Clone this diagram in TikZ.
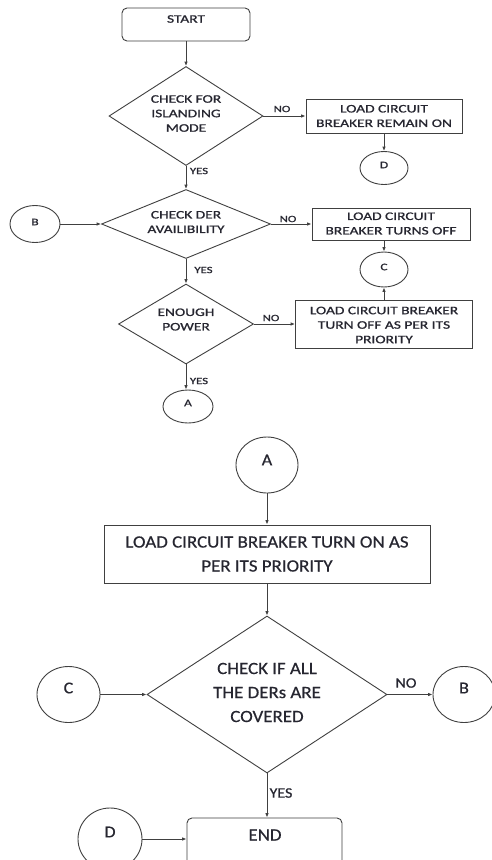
\documentclass[tikz,border=0pt]{standalone}
\usepackage{fontspec}
\setmainfont{Carlito}
\newfontfamily\topfont{Carlito}[FakeStretch=1.34,FakeBold=1]
\newfontfamily\lowfont{Carlito}[FakeStretch=1.1,FakeBold=0.5]
\usetikzlibrary{shapes.geometric,arrows.meta}
\definecolor{ln}{HTML}{404040}
\definecolor{tx}{HTML}{262630}
\begin{document}
\begin{tikzpicture}[x=1pt,y=-1pt,
  box/.style={draw=ln, line width=0.9pt, rectangle, inner sep=0pt},
  rbox/.style={box, rounded corners=5pt},
  dia/.style={draw=ln, line width=0.9pt, diamond, inner sep=0pt},
  circ/.style={draw=ln, line width=0.9pt, ellipse, inner sep=0pt},
  ttop/.style={text=tx, font=\topfont\fontsize{11.5}{14.5}\selectfont, align=center, inner sep=0pt},
  tlow/.style={text=tx, font=\lowfont\fontsize{17.2}{24}\selectfont, align=center, inner sep=0pt},
  ltop/.style={text=tx, font=\topfont\fontsize{9.5}{11}\selectfont, inner sep=0pt},
  llow/.style={text=tx, font=\lowfont\fontsize{14.5}{16}\selectfont, inner sep=0pt},
  ctop/.style={text=tx, font=\topfont\fontsize{10}{12}\selectfont, inner sep=0pt},
  clow/.style={text=tx, font=\lowfont\fontsize{16.5}{18}\selectfont, inner sep=0pt},
  arr/.style={draw=ln, line width=0.9pt, -{Latex[length=4.5pt,width=3.6pt]}},
]
\useasboundingbox (0,0) rectangle (492,860);
\clip (0,0) rectangle (492,860);
\fill[white] (0,0) rectangle (492,860);

% ---------- top part ----------
\node[rbox, minimum width=128pt, minimum height=33pt] (start) at (186,24.5) {};
\node[ttop] (startt) at (186,19) {START};

\node[dia, minimum width=154pt, minimum height=99pt] (d1) at (186,116) {};
\node[ttop] (d1t) at (186,113.5) {CHECK FOR\\ISLANDING\\MODE};

\node[box, minimum width=156pt, minimum height=34pt] (b1) at (384,116) {};
\node[ttop] (b1t) at (384,116) {LOAD CIRCUIT\\BREAKER REMAIN ON};

\node[circ, minimum width=48pt, minimum height=33pt] (cD) at (384,168) {};
\node[ctop] (cDt) at (384,165) {D};

\node[dia, minimum width=169pt, minimum height=69pt] (d2) at (186,224) {};
\node[ttop] (d2t) at (186,222) {CHECK DER\\AVAILIBILITY};

\node[circ, minimum width=50pt, minimum height=37pt] (cB) at (35,224) {};
\node[ctop] (cBt) at (35,222) {B};

\node[box, minimum width=158pt, minimum height=32pt] (b2) at (391,224) {};
\node[ttop] (b2t) at (391,223.5) {LOAD CIRCUIT\\BREAKER TURNS OFF};

\node[circ, minimum width=48pt, minimum height=35pt] (cC) at (384,269.5) {};
\node[ctop] (cCt) at (384,267) {C};

\node[dia, minimum width=135pt, minimum height=80pt] (d3) at (186,324) {};
\node[ttop] (d3t) at (186,319.5) {ENOUGH\\POWER};

\node[box, minimum width=177pt, minimum height=48pt] (b3) at (384,324) {};
\node[ttop] (b3t) at (384,325) {LOAD CIRCUIT BREAKER\\TURN OFF AS PER ITS\\PRIORITY};

\node[circ, minimum width=50pt, minimum height=33pt] (cA) at (188,406.5) {};
\node[ctop] (cAt) at (188,403) {A};

% labels top
\node[ltop] (no1) at (282,109) {NO};
\node[ltop] (yes1) at (199,171) {YES};
\node[ltop] (no2) at (288,219) {NO};
\node[ltop] (yes2) at (203.5,270) {YES};
\node[ltop] (no3) at (271,318) {NO};
\node[ltop] (yes3) at (199,381) {YES};

% connectors top
\draw[arr] (start.south) -- (d1.north);
\draw[arr] (d1.east) -- (b1.west);
\draw[arr] (b1.south) -- (cD.north);
\draw[arr] (d1.south) -- (d2.north);
\draw[arr] (cB.east) -- (d2.west);
\draw[arr] (d2.east) -- (b2.west);
\draw[arr] (b2.south -| cC.north) -- (cC.north);
\draw[arr] (b3.north) -- (cC.south);
\draw[arr] (d2.south) -- (d3.north);
\draw[arr] (d3.east) -- (b3.west);
\draw[arr] (d3.south) -- (d3.south |- cA.north);

% ---------- bottom part ----------
\node[circ, minimum width=62pt, minimum height=56pt] (bigA) at (267,465) {};
\node[clow] (bigAt) at (267,460) {A};

\node[box, minimum width=326pt, minimum height=58pt] (b4) at (267,554) {};
\node[tlow] (b4t) at (267,554) {LOAD CIRCUIT BREAKER TURN ON AS\\PER ITS PRIORITY};

\node[dia, minimum width=240pt, minimum height=157pt] (d4) at (267,694.5) {};
\node[tlow] (d4t) at (267,692.5) {CHECK IF ALL\\THE DERs ARE\\COVERED};

\node[circ, minimum width=63pt, minimum height=56pt] (lC) at (68.5,694.5) {};
\node[clow] (lCt) at (68.5,688) {C};

\node[circ, minimum width=62pt, minimum height=56pt] (rB) at (464,694.5) {};
\node[clow] (rBt) at (464,688) {B};

\node[rbox, minimum width=155pt, minimum height=62pt] (endb) at (264.5,849) {};
\node[tlow] (endt) at (265,835) {END};

\node[circ, minimum width=64pt, minimum height=62pt] (lD) at (110,839) {};
\node[clow] (lDt) at (110,832) {D};

\node[llow] (no4) at (406,683) {NO};
\node[llow] (yes4) at (281,793) {YES};

\draw[arr] (bigA.south) -- (b4.north);
\draw[arr] (b4.south) -- (d4.north);
\draw[arr] (lC.east) -- (d4.west);
\draw[arr] (d4.east) -- (rB.west);
\draw[arr] (d4.south) -- (d4.south |- endb.north);
\draw[arr] (lD.east) -- (lD.east -| endb.west);
\end{tikzpicture}
\end{document}
